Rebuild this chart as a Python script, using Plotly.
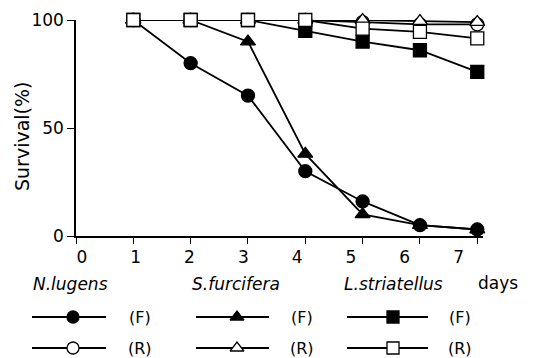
import plotly.graph_objects as go

# ---- data ----
days = [1, 2, 3, 4, 5, 6, 7]
x_ticks = [0, 1, 2, 3, 4, 5, 6, 7]
y_ticks = [0, 50, 100]

nl_F = [100, 80, 65, 30, 16, 5, 3]
sf_F = [100, 100, 90, 38, 10, 5, 3]
ls_F = [100, 100, 100, 95, 90, 86, 76]
nl_R = [100, 100, 100, 100, 99, 98, 98]
sf_R = [100, 100, 100, 100, 100, 99.5, 99]
ls_R = [100, 100, 100, 100, 96, 94.5, 91.5]

species = ["N.lugens", "S.furcifera", "L.striatellus"]
symbols = ["circle", "triangle-up", "square"]
F_series = [nl_F, sf_F, ls_F]
R_series = [nl_R, sf_R, ls_R]

VW, VH = 542, 358          # browser window
OFF = 8                    # page body margin
W, H = VW - OFF, VH - OFF  # figure size
FONT = "DejaVu Sans"
BLACK = "black"

def fx(px):  # window pixel x -> paper fraction
    return (px - OFF) / W

def fy(py):  # window pixel y -> paper fraction
    return 1 - (py - OFF) / H

fig = go.Figure()

def add_series(y, sym, filled, size):
    fig.add_trace(go.Scatter(
        x=days, y=y, mode="lines+markers",
        line=dict(color=BLACK, width=1.8),
        marker=dict(symbol=sym, size=size,
                    color=BLACK if filled else "white",
                    line=dict(color=BLACK, width=1.3)),
        cliponaxis=False, showlegend=False, xaxis="x", yaxis="y"))

for i in [1, 0, 2]:
    add_series(F_series[i], symbols[i], True, 13)
for i in [0, 1, 2]:
    add_series(R_series[i], symbols[i], False, 13)

# empty trace so the tick-label axis is drawn
fig.add_trace(go.Scatter(x=[], y=[], xaxis="x3", yaxis="y", showlegend=False))

# ---- hand-made legend below the plot (pixel-coordinate helper axes) ----
leg_cols = [(32, 106, 73, 140), (196, 269, 237, 302), (347, 428, 393, 460)]
head_x = [70, 236, 393]
row_y = {"F": 317, "R": 348}
for i, (x0, x1, xm, xt) in enumerate(leg_cols):
    for kind, filled in (("F", True), ("R", False)):
        yy = row_y[kind]
        fig.add_trace(go.Scatter(x=[x0, x1], y=[yy, yy], mode="lines",
                                 line=dict(color=BLACK, width=1.8),
                                 xaxis="x2", yaxis="y2", showlegend=False,
                                 cliponaxis=False, hoverinfo="skip"))
        fig.add_trace(go.Scatter(x=[xm], y=[yy], mode="markers",
                                 marker=dict(symbol=symbols[i], size=12,
                                             color=BLACK if filled else "white",
                                             line=dict(color=BLACK, width=1.3)),
                                 xaxis="x2", yaxis="y2", showlegend=False,
                                 cliponaxis=False, hoverinfo="skip"))
        fig.add_annotation(x=xt, y=yy, xref="x2", yref="y2", text=f"({kind})",
                           showarrow=False, font=dict(family=FONT, size=16, color=BLACK))
    fig.add_annotation(x=head_x[i], y=284, xref="x2", yref="y2",
                       text=f"<i>{species[i]}</i>", showarrow=False,
                       font=dict(family=FONT, size=17, color=BLACK))
fig.add_annotation(x=498, y=283, xref="x2", yref="y2", text="days", showarrow=False,
                   font=dict(family=FONT, size=17, color=BLACK))
# y-axis title
fig.add_annotation(x=22, y=137, xref="x2", yref="y2", text="Survival(%)",
                   textangle=-90, showarrow=False,
                   font=dict(family=FONT, size=19, color=BLACK))

x_dom = [fx(76), fx(483)]
y_dom = [fy(236), fy(20)]

fig.update_layout(
    width=W, height=H,
    margin=dict(l=0, r=0, t=0, b=0),
    paper_bgcolor="white", plot_bgcolor="rgba(0,0,0,0)",
    font=dict(family=FONT, size=17, color=BLACK),
    xaxis=dict(domain=x_dom, range=[0, 7.1], showgrid=False, zeroline=False,
               showline=True, linecolor=BLACK, linewidth=1.5,
               tickmode="array", tickvals=x_ticks, ticks="outside",
               ticklen=6, tickwidth=1.3, tickcolor=BLACK, showticklabels=False,
               anchor="y", automargin=False),
    xaxis3=dict(domain=[fx(66), fx(483)], range=[-0.1088, 7.4537], overlaying="x",
                anchor="y", showgrid=False, zeroline=False, showline=False,
                ticks="outside", ticklen=6, tickcolor="rgba(0,0,0,0)",
                tickmode="array", tickvals=x_ticks,
                tickfont=dict(family=FONT, size=17, color=BLACK), automargin=False),
    yaxis=dict(domain=y_dom, range=[0, 100], showgrid=False, zeroline=False,
               showline=True, linecolor=BLACK, linewidth=1.5,
               tickmode="array", tickvals=y_ticks, ticks="outside",
               ticklen=7, tickwidth=1.3, tickcolor=BLACK,
               tickfont=dict(family=FONT, size=17, color=BLACK),
               anchor="x", automargin=False),
    xaxis2=dict(domain=[0, 1], range=[OFF, VW], visible=False, fixedrange=True,
                anchor="y2"),
    yaxis2=dict(domain=[0, 1], range=[VH, OFF], visible=False, fixedrange=True,
                anchor="x2"),
)

fig.write_html("out.html")
